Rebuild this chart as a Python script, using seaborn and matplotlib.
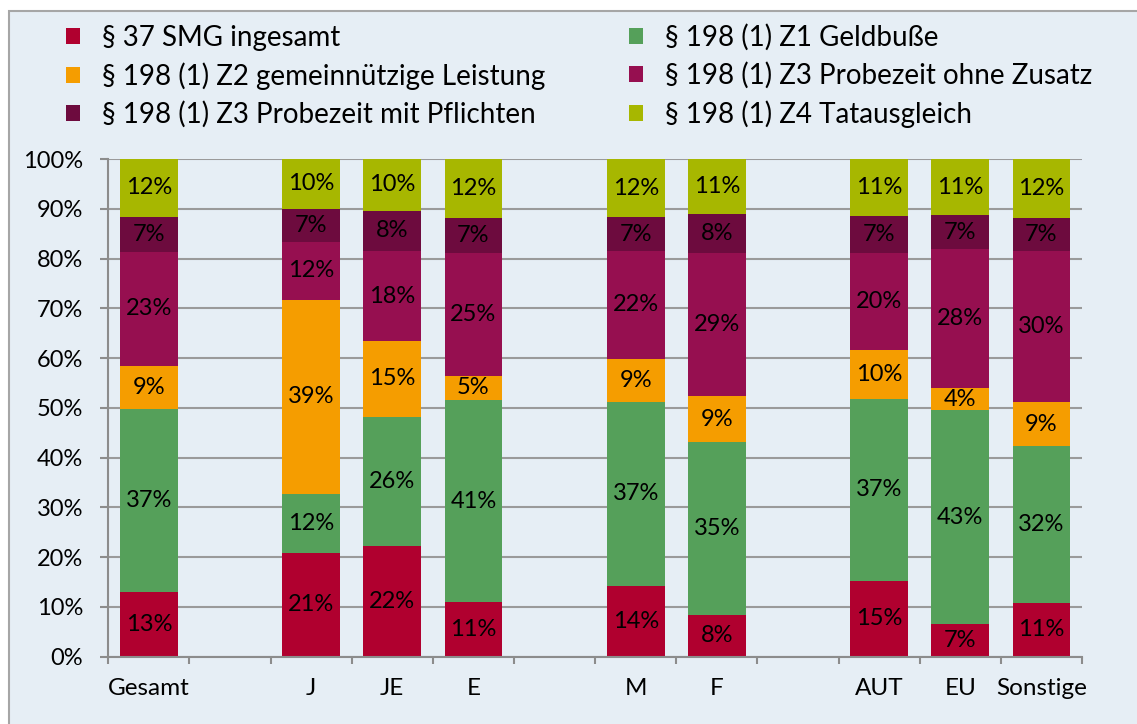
import numpy as np
import pandas as pd
import seaborn as sns
import matplotlib.pyplot as plt
from matplotlib.patches import Patch, Rectangle

kategorien = ["Gesamt", "J", "JE", "E", "M", "F", "AUT", "EU", "Sonstige"]
# Plätze auf der x-Achse, die leeren (" 1" usw.) sind nur Lücken
reihenfolge = ["Gesamt", " 1", "J", "JE", "E", " 2", "M", "F", " 3", "AUT", "EU", "Sonstige"]

smg37 = [13.0, 20.8, 22.3, 10.9, 14.2, 8.4, 15.2, 6.6, 10.8]
z1_geldbusse = [36.7, 11.9, 25.9, 40.7, 37.0, 34.8, 36.6, 42.9, 31.6]
z2_gemeinnuetzig = [8.7, 39.0, 15.2, 4.8, 8.7, 9.1, 9.8, 4.4, 8.7]
z3_ohne = [23.0, 11.6, 18.1, 24.8, 21.6, 28.9, 19.6, 28.0, 30.4]
z3_mit = [7.0, 6.7, 8.1, 7.0, 6.8, 7.7, 7.4, 6.8, 6.6]
z4_tatausgleich = [11.6, 10.0, 10.4, 11.8, 11.7, 11.1, 11.4, 11.3, 11.9]

serien = ["§ 37 SMG ingesamt", "§ 198 (1) Z1 Geldbuße",
          "§ 198 (1) Z2 gemeinnützige Leistung", "§ 198 (1) Z3 Probezeit ohne Zusatz",
          "§ 198 (1) Z3 Probezeit mit Pflichten", "§ 198 (1) Z4 Tatausgleich"]
farben = ["#B0002F", "#55A05A", "#F59D00", "#960F50", "#6D0B3E", "#A7B700"]

werte = pd.DataFrame(dict(zip(serien, [smg37, z1_geldbusse, z2_gemeinnuetzig,
                                        z3_ohne, z3_mit, z4_tatausgleich])),
                     index=kategorien)
kumuliert = werte.cumsum(axis=1)

plt.rcParams['font.family'] = ['Lato', 'DejaVu Sans']
hg = "#E6EEF5"

fig = plt.figure(figsize=(11.37, 7.24), dpi=100, facecolor="white")
# Rahmen um die Grafik
fig.patches.append(Rectangle((9/1137, -0.05), 1.1, 1.05 - 11/724, transform=fig.transFigure,
                             facecolor=hg, edgecolor="#A6A6A6", linewidth=1.5, zorder=-10))
ax = fig.add_axes([108.3/1137, 1 - 656.7/724, (1082 - 108.3)/1137, (656.7 - 159)/724])
ax.set_facecolor("none")

# oberste Summe zuerst, dann die kleineren drüber
for s, c in reversed(list(zip(serien, farben))):
    sns.barplot(x=list(kumuliert.index), y=kumuliert[s].values, order=reihenfolge,
                color=c, saturation=1, width=0.71, errorbar=None, ax=ax)

for s in serien:
    for k in kategorien:
        v = werte.loc[k, s]
        mitte = kumuliert.loc[k, s] - v / 2
        ax.text(reihenfolge.index(k), mitte, f"{round(v):.0f}%", ha="center", va="center",
                fontsize=17, color="black")

ax.set_ylim(0, 100)
ax.set_xlim(-0.5, 11.5)
ax.set_yticks(np.arange(0, 101, 10))
ax.set_yticklabels([f"{t}%" for t in range(0, 101, 10)])
ax.set_xticks(np.arange(-0.5, 12, 1))
ax.set_xticklabels([])
ax.set_xticks(range(12), minor=True)
ax.set_xticklabels([r if not r.startswith(" ") else "" for r in reihenfolge], minor=True)
ax.tick_params(axis="x", which="major", length=5, width=1.5, color="#8C8C8C")
ax.tick_params(axis="x", which="minor", length=0, pad=15, labelsize=17.5)
ax.tick_params(axis="y", length=6, width=1.5, color="#8C8C8C", pad=12, labelsize=17)
ax.set_xlabel("")
ax.set_ylabel("")
ax.yaxis.grid(True, color="#9A9A9A", linewidth=1.5)
ax.set_axisbelow(True)
for side in ["top", "right"]:
    ax.spines[side].set_visible(False)
for side in ["left", "bottom"]:
    ax.spines[side].set_color("#8C8C8C")
    ax.spines[side].set_linewidth(1.5)

# Legende: zweispaltig, spaltenweise befüllt
idx = [0, 2, 4, 1, 3, 5]
handles = [Patch(facecolor=farben[i]) for i in idx]
fig.legend(handles, [serien[i] for i in idx], loc="upper left",
           bbox_to_anchor=(66/1137, 1 - 24/724), ncol=2, frameon=False, fontsize=20,
           handlelength=0.5, handleheight=0.5, handletextpad=0.8, columnspacing=3.0,
           labelspacing=0.4, borderpad=0, borderaxespad=0)

fig.savefig("out.png", dpi=100, facecolor="white")
